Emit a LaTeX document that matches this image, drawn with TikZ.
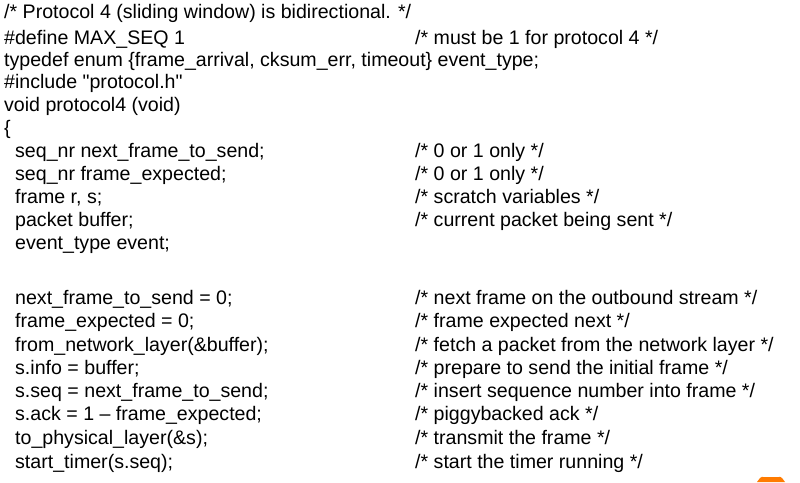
\documentclass[tikz,border=0pt]{standalone}
\usepackage{fontspec}
\setmainfont{Liberation Sans}[Ligatures=TeXOff]
\begin{document}
\begin{tikzpicture}[x=1pt,y=-1pt,
  code/.style={anchor=west,inner sep=0pt,text height=14pt,text depth=4pt,font=\fontsize{19.6}{22}\selectfont}]
\useasboundingbox (0,0) rectangle (800,482);
\fill[orange!85!red!90!yellow] (757,482) -- (760,478) to[out=60,in=180] (764,477) -- (778,477) to[out=0,in=120] (782,478) -- (785,482) -- cycle;
\node[code] (l1) at (4,13) {/* Protocol 4 (sliding window) is bidirectional. */};
\node[code] (l2) at (4,39) {\#define MAX\_SEQ 1};
\node[code] (c2) at (415,39) {/* must be 1 for protocol 4 */};
\node[code] (l3) at (4,61) {typedef enum \{frame\_arrival, cksum\_err, timeout\} event\_type;};
\node[code] (l4) at (4,83) {\#include "protocol.h"};
\node[code] (l5) at (4,106) {void protocol4 (void)};
\node[code] (l6) at (4,129) {\{};
\node[code] (l7) at (15,152) {seq\_nr next\_frame\_to\_send;};
\node[code] (c7) at (415,152) {/* 0 or 1 only */};
\node[code] (l8) at (15,175) {seq\_nr frame\_expected;};
\node[code] (c8) at (415,175) {/* 0 or 1 only */};
\node[code] (l9) at (15,198) {frame r, s;};
\node[code] (c9) at (415,198) {/* scratch variables */};
\node[code] (l10) at (15,221) {packet buffer;};
\node[code] (c10) at (415,221) {/* current packet being sent */};
\node[code] (l11) at (15,244) {event\_type event;};
\node[code] (l12) at (15,299) {next\_frame\_to\_send = 0;};
\node[code] (c12) at (415,299) {/* next frame on the outbound stream */};
\node[code] (l13) at (15,322) {frame\_expected = 0;};
\node[code] (c13) at (415,322) {/* frame expected next */};
\node[code] (l14) at (15,346) {from\_network\_layer(\&buffer);};
\node[code] (c14) at (415,346) {/* fetch a packet from the network layer */};
\node[code] (l15) at (15,369) {s.info = buffer;};
\node[code] (c15) at (415,369) {/* prepare to send the initial frame */};
\node[code] (l16) at (15,392) {s.seq = next\_frame\_to\_send;};
\node[code] (c16) at (415,392) {/* insert sequence number into frame */};
\node[code] (l17) at (15,415) {s.ack = 1 – frame\_expected;};
\node[code] (c17) at (415,415) {/* piggybacked ack */};
\node[code] (l18) at (15,439) {to\_physical\_layer(\&s);};
\node[code] (c18) at (415,439) {/* transmit the frame */};
\node[code] (l19) at (15,463) {start\_timer(s.seq);};
\node[code] (c19) at (415,463) {/* start the timer running */};
\end{tikzpicture}
\end{document}
